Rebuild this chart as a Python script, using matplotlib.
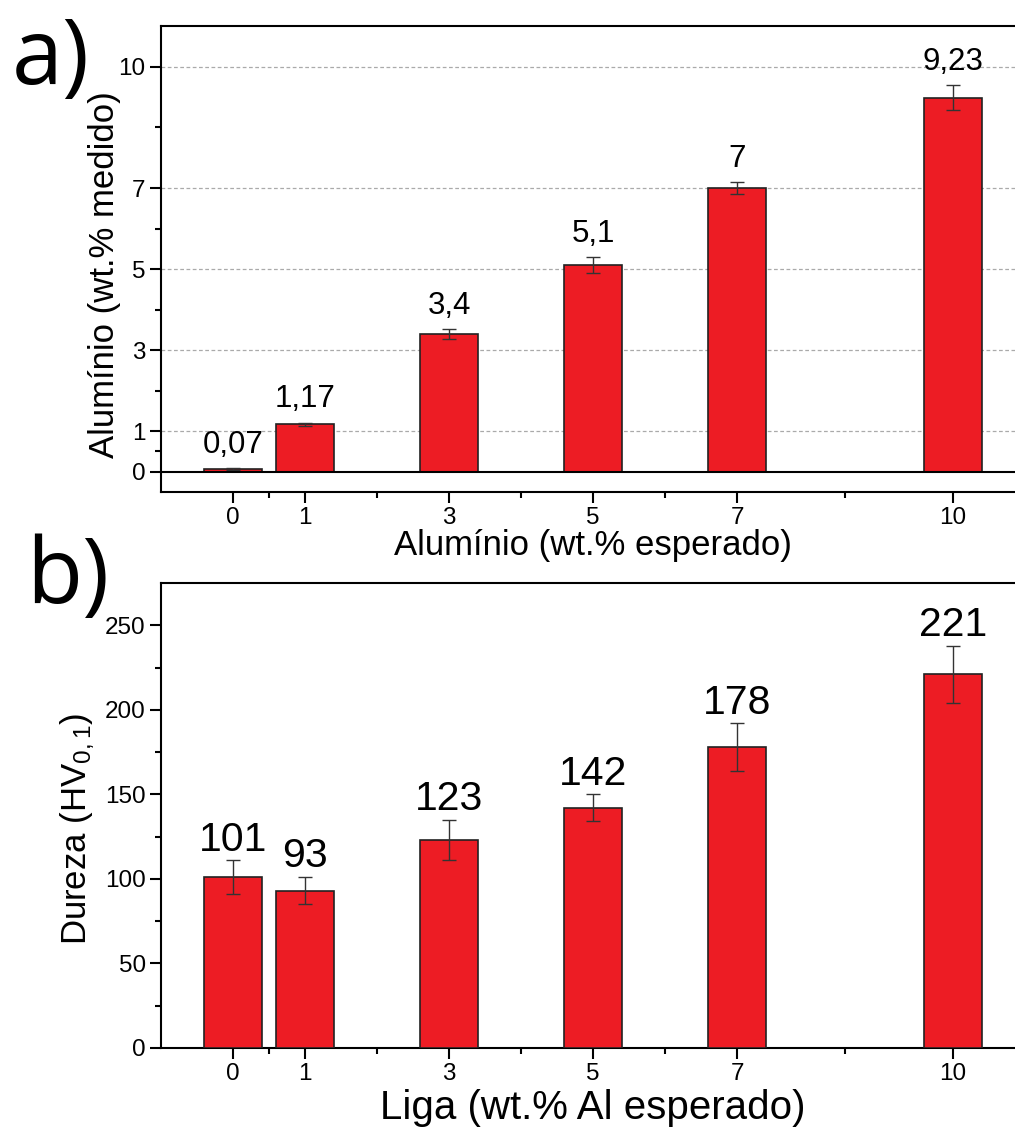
import matplotlib
matplotlib.use('Agg')
import matplotlib.pyplot as plt
from matplotlib.ticker import FixedLocator

# data
ligas = [0, 1, 3, 5, 7, 10]                      # wt.% Al esperado
al_medido = [0.07, 1.17, 3.4, 5.1, 7.0, 9.23]
al_err = [0.02, 0.04, 0.12, 0.2, 0.14, 0.31]
al_labels = ['0,07', '1,17', '3,4', '5,1', '7', '9,23']

dureza = [101, 93, 123, 142, 178, 221]
dureza_err = [10, 8, 12, 8, 14, 17]
dureza_labels = ['101', '93', '123', '142', '178', '221']

BAR_RED = '#ED1C24'
W, H = 1015, 1130

plt.rcParams['font.family'] = ['Liberation Sans', 'DejaVu Sans']
plt.rcParams['mathtext.fontset'] = 'custom'
plt.rcParams['mathtext.rm'] = 'Liberation Sans'
plt.rcParams['mathtext.it'] = 'Liberation Sans'

fig = plt.figure(figsize=(W / 100, H / 100), dpi=100)


def px_axes(left, top, right, bottom):
    return fig.add_axes([left / W, 1 - bottom / H, (right - left) / W, (bottom - top) / H])


def style_axes(ax):
    for s in ['left', 'bottom', 'top']:
        ax.spines[s].set_linewidth(1.5)
    ax.spines['right'].set_visible(False)
    ax.set_xlim(-1, 11)
    ax.xaxis.set_major_locator(FixedLocator(ligas))
    ax.xaxis.set_minor_locator(FixedLocator([0.5, 2, 4, 6, 8.5]))
    ax.set_xticklabels([str(v) for v in ligas])
    ax.tick_params(which='major', direction='out', length=8, width=1.5, labelsize=17.5, pad=3)
    ax.tick_params(which='minor', direction='out', length=4, width=1.5)
    ax.tick_params(top=False, right=False, which='both')


def draw_bars(ax, vals, errs, labels, off, fsize):
    ax.bar(ligas, vals, width=0.8, color=BAR_RED, edgecolor='#222222', linewidth=1.2, zorder=3)
    ax.errorbar(ligas, vals, yerr=errs, fmt='none', ecolor='#333333', elinewidth=1.0,
                capsize=5, capthick=1.0, zorder=4)
    for x, v, e, t in zip(ligas, vals, errs, labels):
        ax.annotate(t, (x, v + e), xytext=(0, off), textcoords='offset points',
                    ha='center', va='baseline', fontsize=fsize)


# ---- a) ----
ax1 = px_axes(161, 26, 1025, 492)
style_axes(ax1)
ax1.set_ylim(-0.5, 11)
ax1.yaxis.set_major_locator(FixedLocator([0, 1, 3, 5, 7, 10]))
ax1.yaxis.set_minor_locator(FixedLocator([0.5, 2, 4, 6, 8.5]))
for g in [1, 3, 5, 7, 10]:
    ax1.axhline(g, color='#aaaaaa', linestyle=(0, (3, 2)), linewidth=0.9, zorder=1)
ax1.axhline(0, color='black', linewidth=1.5, zorder=5)
draw_bars(ax1, al_medido, al_err, al_labels, 11, 22.5)
ax1.set_xlabel('Alumínio (wt.% esperado)', fontsize=25, labelpad=0)
ax1.set_ylabel('Alumínio (wt.% medido)', fontsize=25)
ax1.yaxis.set_label_coords(-40 / 864, (492 - 275) / 466)

# ---- b) ----
ax2 = px_axes(161, 583, 1025, 1048)
style_axes(ax2)
ax2.set_ylim(0, 275)
ax2.yaxis.set_major_locator(FixedLocator([0, 50, 100, 150, 200, 250]))
ax2.yaxis.set_minor_locator(FixedLocator([25, 75, 125, 175, 225]))
draw_bars(ax2, dureza, dureza_err, dureza_labels, 7, 29.5)
ax2.set_xlabel('Liga (wt.% Al esperado)', fontsize=29, labelpad=3)
ax2.set_ylabel('Dureza (HV$_{0,1}$)', fontsize=25)
ax2.yaxis.set_label_coords(-64 / 864, (1048 - 829) / 465)

fig.text(12 / W, 1 - 84 / H, 'a)', fontsize=66, family='Open Sans', va='baseline')
fig.text(26 / W, 1 - 603 / H, 'b)', fontsize=66, family='Open Sans', va='baseline')

fig.savefig('out.png', dpi=100)
